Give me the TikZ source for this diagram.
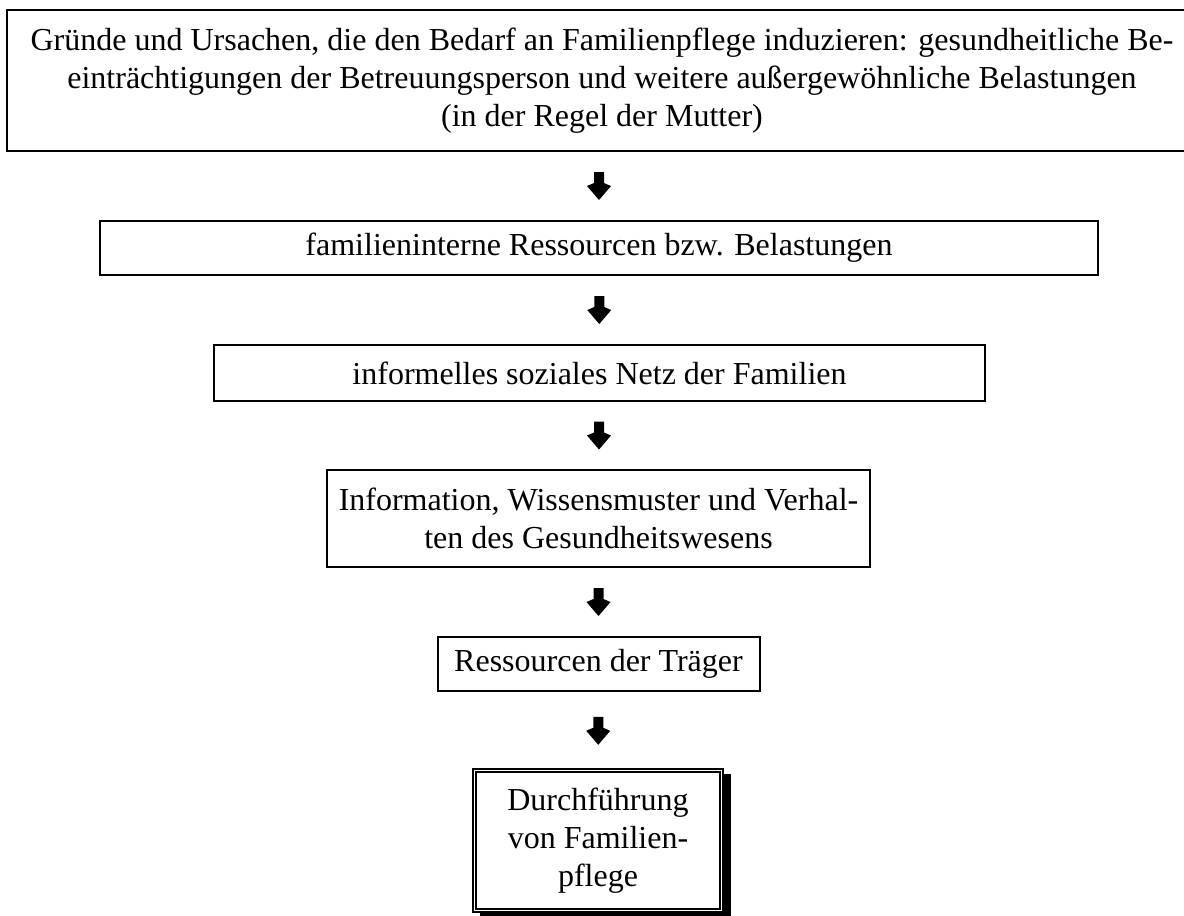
\documentclass[tikz,border=0pt]{standalone}
\usepackage{fontspec}
\setmainfont{Liberation Serif}
\usetikzlibrary{backgrounds,calc}
\tikzset{
  x=1pt, y=-1pt,
  flowbox/.style={draw, line width=2pt, fill=white, inner sep=0pt, align=center,
    font=\fontsize{32}{38}\selectfont},
  endbox/.style={flowbox, double, double distance=1.5pt, line width=1.8pt},
  darrow/.pic={
    \fill[black] (-5,-14) -- (5,-14) -- (5,-3) -- (12,0) -- (0,14) -- (-12,0) -- (-5,-3) -- cycle;
  }
}
\begin{document}
\begin{tikzpicture}
\useasboundingbox (0,0) rectangle (1184,916);
\node[flowbox, minimum width=1190pt, minimum height=141pt] (b1) at (602,80.5)
  {Gründe und Ursachen, die den Bedarf an Familienpflege induzieren: gesundheitliche Be-\\
   einträchtigungen der Betreuungsperson und weitere außergewöhnliche Belastungen\\
   (in der Regel der Mutter)};
\node[flowbox, minimum width=998pt, minimum height=54pt] (b2) at (599,248)
  {familieninterne Ressourcen bzw. Belastungen};
\node[flowbox, minimum width=771pt, minimum height=56pt] (b3) at (599.5,373)
  {informelles soziales Netz der Familien};
\node[flowbox, minimum width=543pt, minimum height=97pt] (b4) at (598.5,518.5)
  {Information, Wissensmuster und Verhal-\\ten des Gesundheitswesens};
\node[flowbox, minimum width=322pt, minimum height=54pt] (b5) at (598.5,664)
  {Ressourcen der Träger};
\node[endbox, minimum width=247pt, minimum height=140pt] (b6) at (598,840.5)
  {Durchführung\\von Familien-\\pflege};
\begin{scope}[on background layer]
  \fill[black] ($(b6.south west)+(6,6)$) rectangle ($(b6.north east)+(9,4)$);
\end{scope}
\path (b2.north |- b1.south) -- (b2.north) pic[pos=0.5]{darrow};
\path (b2.south) -- (b3.north) pic[pos=0.5]{darrow};
\path (b3.south) -- (b4.north) pic[pos=0.5]{darrow};
\path (b4.south) -- (b5.north) pic[pos=0.5]{darrow};
\path (b5.south) -- (b6.north) pic[pos=0.5]{darrow};
\end{tikzpicture}
\end{document}
